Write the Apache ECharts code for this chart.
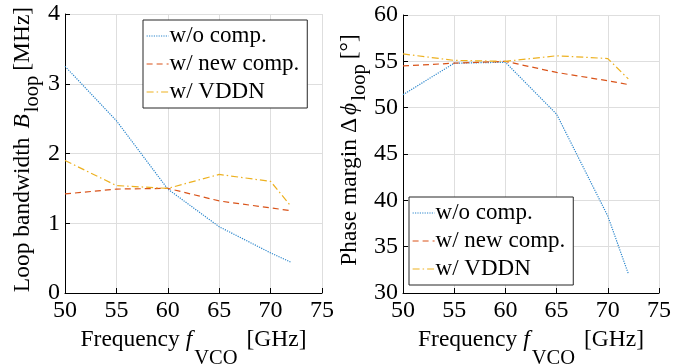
<!DOCTYPE html>
<html>
<head>
<meta charset="utf-8">
<script src="https://cdn.jsdelivr.net/npm/echarts@6/dist/echarts.min.js"></script>
<style>
html,body{margin:0;padding:0;background:#fff;}
#c{width:673px;height:364px;}
</style>
</head>
<body>
<div id="c"></div>
<script>
const freq = [50, 55, 60, 65, 70, 72];
const seriesNames = ['w/o comp.', 'w/ new comp.', 'w/ VDDN'];
const bwWo = [3.25, 2.47, 1.49, 0.95, 0.575, 0.44];
const bwNew = [1.42, 1.49, 1.50, 1.32, 1.22, 1.18];
const bwVddn = [1.90, 1.54, 1.50, 1.70, 1.60, 1.24];
const pmWo = [51.4, 54.8, 54.9, 49.3, 38.3, 32.1];
const pmNew = [54.5, 54.8, 55.0, 53.8, 52.9, 52.5];
const pmVddn = [55.8, 55.1, 55.0, 55.6, 55.3, 53.1];
const xTicks = [50, 55, 60, 65, 70, 75];

const FONT = 'Liberation Serif';
const colors = ['#2b86cc', '#D95319', '#EDB120'];
const lineTypes = ['dotted', [6, 4], [7, 3, 1.5, 3]];

const pair = (ys) => freq.map((x, i) => [x, ys[i]]);

const rich = {
  n: {fontFamily: FONT, fontSize: 23.5, color: '#000', lineHeight: 24, verticalAlign: 'top'},
  i: {fontFamily: FONT, fontSize: 23.5, color: '#000', fontStyle: 'italic', lineHeight: 24, verticalAlign: 'top', padding: [0, 2, 0, 3]},
  j: {fontFamily: FONT, fontSize: 23.5, color: '#000', fontStyle: 'italic', lineHeight: 24, verticalAlign: 'top', padding: [0, 2, 0, 6]},
  s: {fontFamily: FONT, fontSize: 20.5, color: '#000', lineHeight: 20, padding: [20, 9, 0, 0], verticalAlign: 'top'},
  t: {fontFamily: FONT, fontSize: 20.5, color: '#000', lineHeight: 20, padding: [11, 5, 0, 0], verticalAlign: 'top'}
};

function xAxis(gi) {
  return {
    type: 'value', gridIndex: gi, min: 50, max: 75, interval: 5,
    name: '{n|Frequency}{j|f}{s|VCO}{n|[GHz]}',
    nameLocation: 'middle', nameGap: 30,
    nameTextStyle: {rich: rich},
    axisLine: {show: true, onZero: false, lineStyle: {color: '#000', width: 1}},
    axisTick: {show: true, inside: true, length: 5, lineStyle: {color: '#000'}},
    axisLabel: {fontFamily: FONT, fontSize: 24, color: '#000', margin: 6},
    splitLine: {show: true, lineStyle: {color: '#dedede', width: 1}}
  };
}
function yAxis(gi, min, max, interval, name, gap) {
  return {
    type: 'value', gridIndex: gi, min: min, max: max, interval: interval,
    name: name, nameLocation: 'middle', nameGap: gap,
    nameTextStyle: {rich: rich, padding: [0, 0, 0, 8]},
    axisLine: {show: true, onZero: false, lineStyle: {color: '#000', width: 1}},
    axisTick: {show: true, inside: true, length: 5, lineStyle: {color: '#000'}},
    axisLabel: {fontFamily: FONT, fontSize: 24, color: '#000', margin: 5},
    splitLine: {show: true, lineStyle: {color: '#dedede', width: 1}}
  };
}

function mk(name, data, idx, gi) {
  return {
    name: name, type: 'line', xAxisIndex: gi, yAxisIndex: gi,
    data: pair(data), symbol: 'none', showSymbol: false,
    lineStyle: {color: colors[idx], width: 1.2, type: lineTypes[idx]},
    itemStyle: {color: colors[idx]},
    emphasis: {disabled: true}, animation: false
  };
}

const legendBase = {
  data: seriesNames, orient: 'vertical',
  backgroundColor: '#fff', borderColor: '#262626', borderWidth: 1,
  padding: [4, 8, 4, 3], itemGap: 4, itemWidth: 22, itemHeight: 14,
  itemStyle: {opacity: 0},
  lineStyle: {width: 1.2},
  textStyle: {fontFamily: FONT, fontSize: 23, color: '#000', lineHeight: 24, padding: [0, 0, 0, -4]},
  selectedMode: false
};

const chart = echarts.init(document.getElementById('c'), null, {renderer: 'canvas'});
chart.setOption({
  animation: false,
  backgroundColor: '#fff',
  grid: [
    {left: 65, top: 14, width: 257, height: 279, containLabel: false, outerBoundsMode: 'none'},
    {left: 403, top: 15, width: 256, height: 278, containLabel: false, outerBoundsMode: 'none'}
  ],
  xAxis: [xAxis(0), xAxis(1)],
  yAxis: [
    yAxis(0, 0, 4, 1, '{n|Loop bandwidth }{i|B}{t|loop}{n|[MHz]}', 30),
    yAxis(1, 30, 60, 5, '{n|Phase margin Δ}{i|ϕ}{t|loop}{n|[°]}', 35)
  ],
  legend: [
    Object.assign({}, legendBase, {left: 143, top: 20}),
    Object.assign({}, legendBase, {left: 409, top: 197})
  ],
  series: [
    mk(seriesNames[0], bwWo, 0, 0),
    mk(seriesNames[1], bwNew, 1, 0),
    mk(seriesNames[2], bwVddn, 2, 0),
    mk(seriesNames[0], pmWo, 0, 1),
    mk(seriesNames[1], pmNew, 1, 1),
    mk(seriesNames[2], pmVddn, 2, 1)
  ]
});
</script>
</body>
</html>
